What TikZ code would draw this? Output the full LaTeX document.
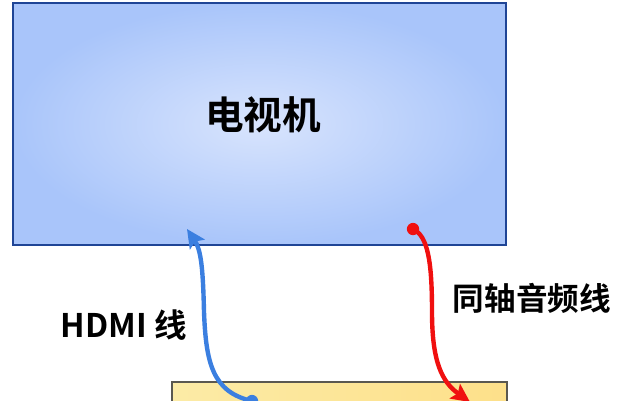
\documentclass[tikz,border=0pt]{standalone}
\usepackage[rgb]{xcolor}
\usepackage{fontspec}
\usepackage{tikz}
\usetikzlibrary{arrows.meta}
\newfontfamily\cjk{Noto Sans CJK SC}[BoldFont={Noto Sans CJK SC Bold}]

\definecolor{tvedge}{HTML}{1F4596}
\definecolor{tvin}{HTML}{D8E4FD}
\definecolor{tvout}{HTML}{A9C5FA}
\definecolor{boxedge}{HTML}{5A5850}
\definecolor{boxleft}{HTML}{FCEBA6}
\definecolor{boxright}{HTML}{FDE08A}
\definecolor{hdmiblue}{HTML}{3B7FE0}
\definecolor{coaxred}{HTML}{F01010}

\begin{document}
\begin{tikzpicture}[x=0.02cm, y=-0.02cm,
  lbl/.style={font=\cjk\bfseries, inner sep=0pt},
  cable/.style={line width=2.5pt, line cap=round},
  plug/.style={circle, fill, inner sep=0pt, minimum size=7pt}]

\useasboundingbox (0,0) rectangle (631,400);
\clip (0,0) rectangle (631,400);


% TV screen
\shade[inner color=tvin, outer color=tvout, draw=tvedge, line width=1.2pt] (13,3) rectangle (506,245);
\path 
(263,115) node [lbl, font=\cjk\bfseries\fontsize{22}{24}\selectfont] (tv) {电视机};


% Receiver box at the bottom
\shade[left color=boxleft, right color=boxright, draw=boxedge, line width=1.2pt] (172,382) rectangle (507,420);


% HDMI cable
\path 
(252,401) node [plug, hdmiblue] (hdmiplug) {};
\coordinate (hdmiend) at (187,229);

\draw[cable, hdmiblue, -{Stealth[length=10.5pt, width=10pt, inset=2pt]}] (hdmiplug.center)
  .. controls (212,392) and (206,362) .. (204,312)
  .. controls (203,268) and (201,250) .. (hdmiend);

\path 
(124,325) node [lbl, font=\cjk\bfseries\fontsize{18.5}{20}\selectfont] (hdmi) {HDMI 线};


% Coaxial audio cable
\path 
(413,229) node [plug, coaxred] (coaxplug) {};
\coordinate (coaxend) at (470,402);

\draw[cable, coaxred, -{Stealth[length=10.5pt, width=10pt, inset=2pt]}] (coaxplug.center)
  .. controls (428,236) and (432,262) .. (432,312)
  .. controls (432,362) and (442,382) .. (coaxend);

\path 
(532,298) node [lbl, font=\cjk\bfseries\fontsize{18}{20}\selectfont] (coax) {同轴音频线};


\end{tikzpicture}
\end{document}
